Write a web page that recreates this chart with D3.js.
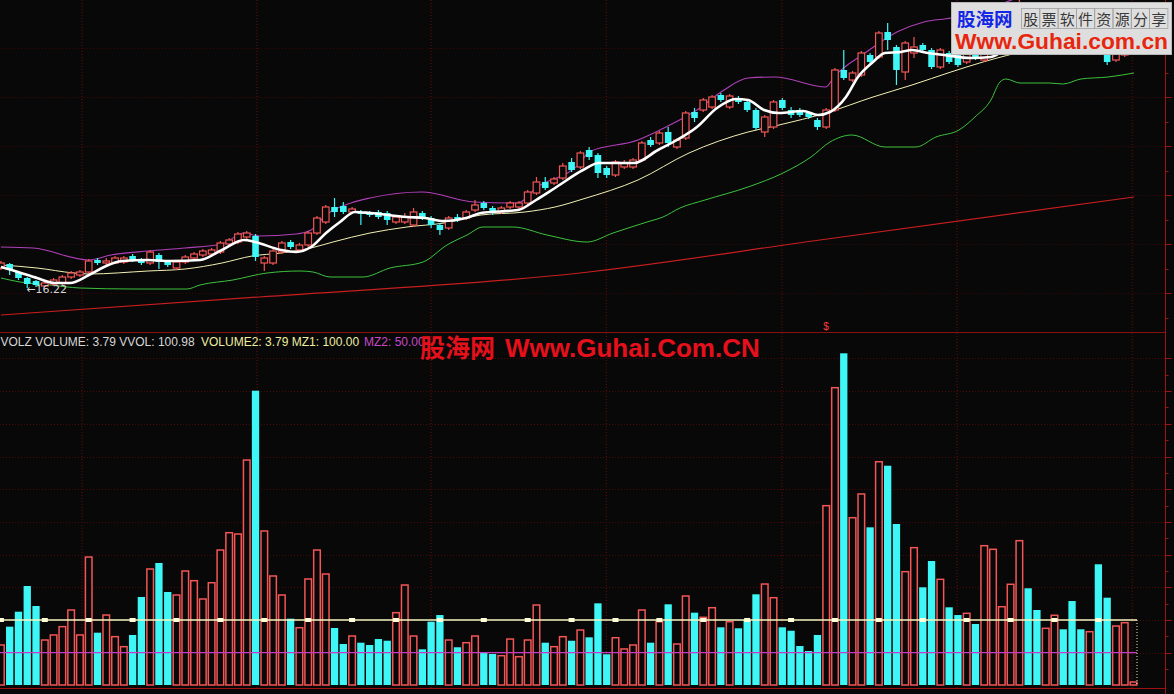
<!DOCTYPE html>
<html><head><meta charset="utf-8">
<script src="https://cdn.jsdelivr.net/npm/d3@7"></script>
<style>html,body{margin:0;padding:0;background:#080808;overflow:hidden}</style>
</head><body>
<svg id="c" width="1174" height="694"></svg>
<script>
// ---------- DATA ----------
const opens=[17.22,17.42,17.02,16.72,16.57,16.32,16.42,16.47,16.77,16.87,
17.02,17.62,17.47,17.47,17.52,17.82,17.62,17.47,17.87,17.52,
17.22,17.52,17.72,17.87,17.92,18.02,18.42,18.52,18.77,18.82,
17.47,17.47,18.02,18.52,18.12,18.37,18.97,19.52,20.27,20.32,
20.02,20.02,19.97,20.02,19.97,19.52,19.52,19.37,19.97,19.72,
19.37,19.22,19.77,19.72,20.12,20.47,20.22,20.02,20.27,20.27,
20.47,20.97,21.52,21.47,21.72,22.52,22.27,23.12,22.87,22.22,
21.87,22.27,22.27,22.62,23.62,23.47,24.02,23.27,23.72,25.02,
25.12,25.27,25.87,25.27,25.72,25.52,25.12,24.02,24.27,25.62,
25.12,25.12,24.97,24.62,24.27,25.12,27.12,26.62,26.87,27.87,
27.77,29.02,28.27,27.02,27.97,28.37,28.12,27.27,27.97,27.87,
27.52,28.12,27.62,28.22,28.77,29.12,29.62,30.32,30.12,29.52,
29.62,30.02,29.62,29.22,28.62,28.87,28.02,27.62,27.87,28.12];
const highs=[17.57,17.47,17.07,16.77,16.62,16.52,16.72,16.87,17.07,17.12,
17.67,17.72,17.72,17.82,17.82,17.92,17.72,18.12,17.97,17.62,
17.62,17.87,18.02,18.17,18.22,18.57,18.72,19.02,19.07,18.92,
17.82,18.17,18.57,18.62,18.47,19.07,19.82,20.37,20.72,20.52,
20.27,20.12,20.07,20.12,20.07,19.87,19.97,20.22,20.07,19.82,
19.47,19.82,19.92,20.12,20.62,20.57,20.32,20.32,20.57,20.57,
21.12,21.77,21.77,21.77,22.47,22.72,23.07,23.27,22.97,22.32,
22.62,22.62,22.72,23.57,23.77,24.07,24.27,23.72,25.07,25.22,
25.72,25.87,25.97,25.92,25.82,25.62,25.22,24.87,25.62,25.72,
25.27,25.22,25.07,24.72,25.22,27.22,28.12,27.07,28.07,27.97,
29.07,29.47,28.37,28.57,28.77,28.47,28.22,28.22,28.07,27.97,
28.12,28.22,28.47,29.07,29.47,30.02,30.62,30.52,30.37,30.22,
30.52,30.22,29.87,29.37,29.22,29.02,28.12,28.07,28.37,28.47];
const lows=[17.12,16.87,16.62,16.22,16.27,16.32,16.32,16.37,16.67,16.77,
16.92,17.37,17.37,17.42,17.42,17.52,17.37,17.37,17.17,17.27,
17.12,17.42,17.62,17.77,17.82,17.92,18.32,18.42,18.67,17.57,
17.07,17.37,17.92,18.17,18.02,18.27,18.87,19.42,19.77,19.92,
19.92,19.37,19.77,19.67,19.37,19.42,19.42,19.27,19.62,19.22,
18.87,19.12,19.52,19.62,20.02,20.12,19.87,19.92,20.17,20.17,
20.37,20.87,21.12,21.37,21.62,22.02,22.17,22.62,21.72,21.72,
21.77,22.17,22.17,22.52,23.27,23.37,23.27,23.17,23.62,24.52,
25.02,25.17,25.52,25.17,25.42,25.02,24.12,23.77,24.17,25.12,
24.72,24.77,24.67,24.12,24.17,25.02,26.62,26.52,26.77,27.42,
27.67,28.12,26.37,26.62,27.72,28.02,27.17,27.17,27.42,27.27,
27.42,27.62,27.52,28.12,28.67,29.02,29.52,29.52,29.37,29.37,
29.52,29.22,28.72,28.52,28.47,28.12,27.37,27.52,27.77,28.02];
const closes=[17.47,17.17,16.72,16.42,16.37,16.47,16.62,16.77,16.97,17.02,
17.57,17.47,17.57,17.72,17.72,17.62,17.47,18.02,17.52,17.37,
17.52,17.77,17.92,18.07,18.12,18.47,18.62,18.92,18.97,17.77,
17.72,18.07,18.47,18.27,18.37,18.97,19.72,20.27,20.02,20.02,
20.17,19.92,19.87,19.77,19.62,19.77,19.77,20.02,19.72,19.37,
19.12,19.72,19.62,20.02,20.37,20.22,19.97,20.22,20.47,20.47,
21.02,21.52,21.22,21.67,22.32,22.12,22.97,22.77,21.97,21.87,
22.52,22.47,22.62,23.47,23.37,23.97,23.47,23.62,24.97,24.72,
25.62,25.77,25.62,25.82,25.52,25.12,24.22,24.77,25.52,25.22,
24.87,24.87,24.77,24.27,25.12,27.12,26.72,26.97,27.97,27.52,
28.97,28.62,27.12,28.47,28.27,28.12,27.27,28.12,27.52,27.37,
28.02,27.72,28.37,28.97,29.37,29.87,30.37,29.72,29.52,30.02,
30.22,29.37,28.87,28.72,29.12,28.22,27.52,27.97,28.27,28.37];
const volumes=[61.8,89.8,112.7,152,121.4,69.4,77.1,89.8,115.3,77.1,
196.3,80.6,107.6,74.5,59.2,77.1,135.2,178,187.2,142.8,
138.2,174.9,160.1,132.1,157,207,233.5,231.5,344.6,450.6,
236.1,167.3,138.2,102,88.2,162.7,207,170.3,87.8,63.3,
75.5,65.3,61.8,70.9,68.3,111.2,153.5,75.5,55.2,97.4,
107.6,69.4,58.3,65.3,75.5,50,48,45.4,70.9,43.9,
69.4,122.9,65.3,59.2,74.5,68.3,84.7,73.5,125.5,47.6,
72.9,55.7,61.8,115.3,65.3,97.4,124,63.3,136.7,111.2,
104.1,118.8,88.8,97.4,87.3,100,139.3,155,134.1,88.8,
83.6,60.2,52.6,77.1,274.8,455.2,507.8,256.4,292.7,241.7,
342,335.9,246.8,173.9,210.6,150,190.2,162.2,119.4,107.6,
110.2,93.9,213.6,208.1,120.3,154.6,221.3,148.5,115.3,87.3,
107.2,85.8,129,85.8,82.1,185.2,134.1,90.8,95.9,3.79];
// indicator lines: [bar index, price]
const maShort=[[0,17.27],[1.95,17.02],[4.11,16.72],[6.16,16.47],[7.87,16.47],[10.03,16.87],[11.74,17.27],[13.79,17.57],[16.75,17.62],[19.26,17.57],[22.68,17.62],[25.18,18.12],[27.69,18.62],[28.94,18.52],[31.9,18.12],[33.61,18.02],[35.32,18.27],[37.03,18.97],[38.62,19.52],[40.33,20.02],[42.04,19.97],[46.25,19.77],[48.3,19.72],[50.47,19.57],[52.97,19.72],[54.68,19.97],[58.9,20.12],[60.95,20.62],[63.11,21.22],[66.3,22.12],[68.12,22.47],[72.11,22.47],[74.84,23.12],[77.0,23.62],[79.28,24.27],[81.56,25.22],[83.72,25.67],[85.09,25.62],[86.92,25.12],[88.62,24.97],[91.36,25.07],[93.06,24.87],[94.43,25.02],[96.25,25.77],[97.62,26.77],[99.33,27.52],[100.69,27.97],[102.52,28.02],[103.77,28.12],[105.59,27.97],[107.41,27.87],[110.49,27.72],[112.76,27.77],[114.93,28.37],[117.2,29.22],[119.49,29.72],[121.76,29.87],[124.04,29.37],[126.32,28.37],[128.95,28.12]];
const maMid=[[0,17.37],[4.11,17.22],[8.33,16.97],[10.03,16.92],[16.75,17.07],[20.97,17.17],[25.18,17.47],[28.6,17.82],[31.9,17.97],[35.32,18.22],[37.82,18.52],[42.04,18.97],[46.25,19.27],[50.47,19.47],[54.68,19.87],[59.69,20.02],[63.11,20.27],[66.3,20.67],[72.56,21.62],[78.37,22.97],[85.09,24.02],[88.62,24.37],[93.97,24.97],[99.33,25.77],[103.77,26.37],[108.21,27.02],[111.86,27.52],[117.2,28.12],[128.95,28.72]];
const bandUpper=[[0,18.27],[3.66,18.22],[10.03,17.62],[12.54,17.87],[16.75,18.07],[20.97,18.22],[25.18,18.42],[27.69,18.97],[29.4,18.82],[33.61,18.92],[35.32,19.12],[37.03,19.87],[39.87,20.47],[42.04,20.72],[47.96,21.02],[53.88,20.52],[58.9,20.47],[60.95,21.22],[65.96,22.47],[66.98,23.02],[72.56,23.62],[75.75,24.27],[79.28,25.12],[82.36,26.12],[85.09,26.72],[88.16,26.77],[93.97,26.27],[94.88,26.77],[98.42,27.97],[102.06,29.02],[105.13,29.52],[108.21,29.72],[112.65,30.22],[117.2,30.87],[129,31.12]];
const bandLower=[[0,16.72],[2.18,16.52],[5.59,16.37],[9.01,16.22],[15.05,16.17],[21.19,16.17],[22.68,16.37],[26.43,16.62],[30.31,16.97],[34.07,17.07],[35.55,17.02],[37.48,16.77],[41.24,16.77],[44.32,17.22],[48.08,17.52],[50.81,18.37],[53.09,18.87],[54.91,19.27],[58.33,19.27],[62.2,18.87],[66.76,18.52],[69.72,18.97],[73.59,19.52],[75.41,19.77],[77.35,20.22],[80.19,20.62],[85.09,21.27],[89.08,21.97],[92.27,22.77],[94.43,23.52],[96.93,23.87],[100.69,23.27],[104.22,23.27],[106.5,23.77],[109.12,24.12],[110.94,24.77],[112.76,25.62],[113.79,26.52],[114.48,26.67],[116.07,26.47],[119.4,26.47],[120.97,26.42],[123.02,26.67],[126.1,26.77],[129.06,26.97]];
const maLong=[[0,14.87],[29.4,15.77],[65.96,16.97],[93.29,18.62],[129.06,20.77]];
const MZ1=100, MZ2=50;
const volTicks=[50,100,150,200,250,300,350,400,450,500];
const priceTicks=[28.2,25.75,23.3,20.85,18.4,15.95];
const gridIdx=[9.24,29.17,49.0,68.95,88.96,108.9,128.85];
const lowLabel="←16.22", lowIdx=3;
const legend1="VOLZ VOLUME: 3.79 VVOL: 100.98";
const legend2="VOLUME2: 3.79 MZ1: 100.00";
const legend3="MZ2: 50.00";
const wmName="股海网", wmSlogan=["股","票","软","件","资","源","分","享"], wmUrl="Www.Guhai.com.cn", wmUrl2="Www.Guhai.Com.CN";

// ---------- DRAW ----------
const svg=d3.select('#c');
const BG='#080808', RED='#f25656', CYAN='#3ef6f6';
const x=d3.scaleLinear().domain([0,129]).range([0.9,1133.5]);
const yP=d3.scaleLinear().domain([14.02,30.62]).range([332,0]);
const yV=d3.scaleLinear().domain([0,500]).range([685.4,358.4]);
const AX=1165.5;

svg.append('rect').attr('width',1174).attr('height',694).attr('fill',BG);

// grid
const gridG=svg.append('g');
gridG.selectAll('.vg').data(gridIdx).join('line').attr('x1',d=>x(d)).attr('x2',d=>x(d))
 .attr('y1',0).attr('y2',688).attr('stroke','#6a0c0c').attr('stroke-dasharray','1,2');
gridG.selectAll('.hv').data(volTicks).join('line').attr('x1',0).attr('x2',AX).attr('y1',d=>Math.round(yV(d))+.5).attr('y2',d=>Math.round(yV(d))+.5)
 .attr('stroke','#4a0808').attr('stroke-dasharray','1,2');
gridG.selectAll('.hp').data(priceTicks).join('line').attr('x1',0).attr('x2',AX).attr('y1',d=>Math.round(yP(d))+.5).attr('y2',d=>Math.round(yP(d))+.5)
 .attr('stroke','#3a0606').attr('stroke-dasharray','1,2');

// frame
svg.append('line').attr('x1',0).attr('x2',AX).attr('y1',332.5).attr('y2',332.5).attr('stroke','#8a1010');
svg.append('line').attr('x1',0).attr('x2',AX).attr('y1',688.5).attr('y2',688.5).attr('stroke','#a01010');
svg.append('line').attr('x1',AX).attr('x2',AX).attr('y1',0).attr('y2',694).attr('stroke','#a01010');
const vt=[]; volTicks.forEach(v=>{vt.push([v,6]);vt.push([v-25,3]);});
svg.selectAll('.vt').data(vt).join('line').attr('x1',AX).attr('x2',d=>AX+d[1]).attr('y1',d=>Math.round(yV(d[0]))+.5).attr('y2',d=>Math.round(yV(d[0]))+.5).attr('stroke','#a01010');
const pt=[]; priceTicks.forEach(p=>{pt.push([p,6]);pt.push([p-1.225,3]);});
svg.selectAll('.pt').data(pt).join('line').attr('x1',AX).attr('x2',d=>AX+d[1]).attr('y1',d=>Math.round(yP(d[0]))+.5).attr('y2',d=>Math.round(yP(d[0]))+.5).attr('stroke','#a01010');

// top panel
svg.append('clipPath').attr('id','ct').append('rect').attr('x',0).attr('y',0).attr('width',AX).attr('height',332);
const topG=svg.append('g').attr('clip-path','url(#ct)');
const ln=d3.line().x(d=>x(d[0])).y(d=>yP(d[1])).curve(d3.curveMonotoneX);
topG.append('path').attr('d',ln(maLong)).attr('fill','none').attr('stroke','#c81e1e').attr('stroke-width',1.2);
topG.append('path').attr('d',ln(bandLower)).attr('fill','none').attr('stroke','#3cc23c').attr('stroke-width',1);
topG.append('path').attr('d',ln(bandUpper)).attr('fill','none').attr('stroke','#b040b8').attr('stroke-width',1.1);
topG.append('path').attr('d',ln(maMid)).attr('fill','none').attr('stroke','#f2f0b4').attr('stroke-width',1);

const idx=d3.range(opens.length);
const isUp=i=>closes[i]>=opens[i];
const cw=6.6;
topG.selectAll('.wk').data(idx).join('line').attr('x1',i=>x(i)).attr('x2',i=>x(i))
 .attr('y1',i=>yP(highs[i])).attr('y2',i=>yP(lows[i])).attr('stroke',i=>isUp(i)?RED:CYAN).attr('stroke-width',1.2);
topG.selectAll('.bd').data(idx).join('rect')
 .attr('x',i=>x(i)-cw/2).attr('width',cw)
 .attr('y',i=>yP(Math.max(opens[i],closes[i])))
 .attr('height',i=>Math.max(1,Math.abs(yP(opens[i])-yP(closes[i]))))
 .attr('fill',i=>isUp(i)?BG:CYAN).attr('stroke',i=>isUp(i)?RED:'none').attr('stroke-width',1.2);
topG.append('path').attr('d',ln(maShort)).attr('fill','none').attr('stroke','#ffffff').attr('stroke-width',2.6);

topG.append('text').attr('x',x(lowIdx)-1).attr('y',yP(lows[lowIdx])+5).attr('fill','#d4d4d4')
 .attr('font-family','DejaVu Sans, sans-serif').attr('font-size',11).text(lowLabel);
topG.append('text').attr('x',x(94)-3).attr('y',330).attr('fill','#ff3a3a')
 .attr('font-family','Liberation Sans, Arial, sans-serif').attr('font-size',10).text('$');

// volume panel
const vb=svg.append('g');
const base=yV(0)-0.4;
vb.selectAll('.vb').data(idx).join('rect')
 .attr('x',i=>isUp(i)?x(i)-3.3:x(i)-3.65).attr('width',i=>isUp(i)?6.6:7.3)
 .attr('y',i=>Math.min(yV(volumes[i]),base-3)).attr('height',i=>base-Math.min(yV(volumes[i]),base-3))
 .attr('fill',i=>isUp(i)?BG:CYAN).attr('stroke',i=>isUp(i)?RED:'none').attr('stroke-width',1.5);
const xEnd=x(129)+3.5;
vb.append('line').attr('x1',0).attr('x2',xEnd).attr('y1',yV(MZ2)).attr('y2',yV(MZ2)).attr('stroke','#c43cc4').attr('stroke-width',1.2);
vb.append('line').attr('x1',0).attr('x2',xEnd).attr('y1',yV(MZ1)).attr('y2',yV(MZ1)).attr('stroke','#f6f6c0').attr('stroke-width',1.3);
vb.append('line').attr('x1',xEnd).attr('x2',xEnd).attr('y1',yV(MZ1)).attr('y2',base).attr('stroke','#e8e8b0').attr('stroke-dasharray','1,2');
vb.selectAll('.mk').data(idx.filter(i=>i%5===0)).join('rect')
 .attr('x',i=>x(i)-3).attr('y',yV(MZ1)-2).attr('width',6).attr('height',4).attr('fill','#fffed8');

// legend
const lf='Liberation Sans, Arial, sans-serif';
svg.append('text').attr('x',0.5).attr('y',346).attr('font-family',lf).attr('font-size',12).attr('fill','#d6d6d6').text(legend1);
svg.append('text').attr('x',201).attr('y',346).attr('font-family',lf).attr('font-size',12).attr('fill','#eeeea0').text(legend2);
svg.append('text').attr('x',364).attr('y',346).attr('font-family',lf).attr('font-size',12).attr('fill','#c848c8').text(legend3);

// watermark in the middle
svg.append('text').attr('x',420).attr('y',357).attr('font-family','Noto Sans CJK SC').attr('font-weight','bold').attr('font-size',25).attr('fill','#e6101c').text(wmName);
svg.append('text').attr('x',505).attr('y',357).attr('font-family',lf).attr('font-weight','bold').attr('font-size',26).attr('fill','#e6101c').text(wmUrl2);

// watermark box top-right
const wb=svg.append('g');
wb.append('rect').attr('x',951.5).attr('y',2.5).attr('width',220).attr('height',52).attr('fill','#dedede').attr('stroke','#b8b8b8');
wb.append('text').attr('x',957).attr('y',26).attr('font-family','Noto Sans CJK SC').attr('font-weight','bold').attr('font-size',18.5).attr('fill','#1426e6').text(wmName);
const cwid=18.3;
wb.selectAll('.cell').data(wmSlogan).join('rect').attr('x',(d,i)=>1021+i*cwid+.5).attr('y',8.5).attr('width',cwid).attr('height',20).attr('fill','none').attr('stroke','#a0a0a0').attr('stroke-width',0.8);
wb.selectAll('.ch').data(wmSlogan).join('text').attr('x',(d,i)=>1021+i*cwid+cwid/2+.5).attr('y',24.5).attr('text-anchor','middle')
 .attr('font-family','Noto Sans CJK SC').attr('font-size',15).attr('fill','#383838').text(d=>d);
wb.append('text').attr('x',955).attr('y',49).attr('font-family',lf).attr('font-weight','bold').attr('font-size',21.5).attr('fill','#e8260e')
 .attr('textLength',213).attr('lengthAdjust','spacingAndGlyphs').text(wmUrl);
</script>
</body></html>
